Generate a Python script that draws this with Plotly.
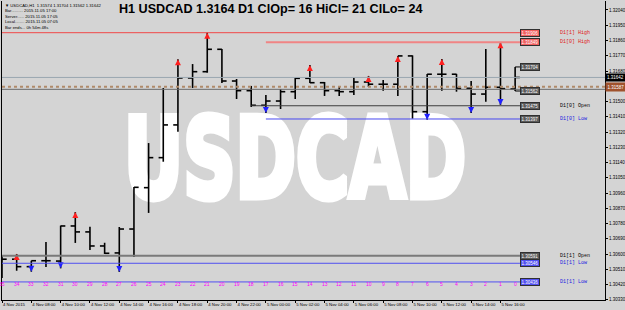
import plotly.graph_objects as go

# ---------------- data ----------------
shifts = list(range(35, -1, -1))
opens = [1.30554, 1.30570, 1.30526, 1.30561, 1.30559, 1.30766, 1.30731, 1.30648, 1.30607, 1.30748,
         1.30992, 1.31169, 1.31362, 1.31639, 1.31676, 1.31808, 1.31621, 1.31564, 1.31478, 1.31503,
         1.31558, 1.31637, 1.31611, 1.31564, 1.31558, 1.31615, 1.31602, 1.31602, 1.31769, 1.31440,
         1.31661, 1.31661, 1.31578, 1.31544, 1.31584, 1.31574]
highs = [1.30595, 1.30601, 1.30561, 1.30672, 1.30768, 1.30848, 1.30762, 1.30667, 1.30760, 1.30996,
         1.31255, 1.31580, 1.31749, 1.31721, 1.31906, 1.31810, 1.31633, 1.31592, 1.31539, 1.31574,
         1.31639, 1.31715, 1.31615, 1.31586, 1.31639, 1.31651, 1.31627, 1.31769, 1.31772, 1.31662,
         1.31751, 1.31663, 1.31621, 1.31810, 1.31849, 1.31704]
lows = [1.30459, 1.30502, 1.30496, 1.30524, 1.30516, 1.30666, 1.30624, 1.30601, 1.30495, 1.30583,
        1.30843, 1.31145, 1.31322, 1.31580, 1.31670, 1.31609, 1.31515, 1.31468, 1.31432, 1.31456,
        1.31515, 1.31609, 1.31533, 1.31533, 1.31539, 1.31586, 1.31564, 1.31533, 1.31399, 1.31393,
        1.31564, 1.31558, 1.31432, 1.31499, 1.31480, 1.31562]
closes = [1.30570, 1.30526, 1.30561, 1.30561, 1.30766, 1.30731, 1.30648, 1.30605, 1.30748, 1.30994,
          1.31169, 1.31362, 1.31639, 1.31676, 1.31808, 1.31621, 1.31564, 1.31478, 1.31503, 1.31558,
          1.31637, 1.31611, 1.31564, 1.31558, 1.31615, 1.31602, 1.31602, 1.31769, 1.31440, 1.31661,
          1.31661, 1.31578, 1.31544, 1.31584, 1.31576, 1.31642]

up_arrow_shifts = [34, 30, 23, 21, 14, 10, 8, 5, 1]
down_arrow_shifts = [33, 31, 27, 17, 6, 3, 1]

time_tick_shifts = [35, 33, 31, 29, 27, 25, 23, 21, 19, 17, 15, 13, 11, 9, 7, 5, 3, 1]
time_tick_labels = ["4 Nov 2015", "4 Nov 08:00", "4 Nov 10:00", "4 Nov 12:00", "4 Nov 14:00",
                    "4 Nov 16:00", "4 Nov 18:00", "4 Nov 20:00", "4 Nov 22:00", "5 Nov 00:00",
                    "5 Nov 02:00", "5 Nov 04:00", "5 Nov 06:00", "5 Nov 08:00", "5 Nov 10:00",
                    "5 Nov 12:00", "5 Nov 14:00", "5 Nov 16:00"]

price_ticks = [1.30330, 1.30420, 1.30510, 1.30600, 1.30690, 1.30780, 1.30870, 1.30960, 1.31050,
               1.31140, 1.31230, 1.31320, 1.31410, 1.31500, 1.31590, 1.31680, 1.31770, 1.31860,
               1.31950, 1.32040]

level_names = ["D1[1] High", "D1[0] High", "D1[0] Open", "D1[0] Low", "D1[1] Open", "D1[1] Low", "D1[1] Low"]
level_values = [1.31906, 1.31849, 1.31475, 1.31397, 1.30591, 1.30546, 1.30436]
level_start_shift = [35, 17, 18, 17, 35, 35, 35]

bid_price = 1.31642
dotted_level = 1.31587
gray_level = 1.31572

watermark = "USDCAD"
title_text = "H1 USDCAD 1.3164 D1 ClOp= 16 HiCl= 21 ClLo= 24"
info_lines = ["\u25bc USDCAD,H1  1.31574 1.31704 1.31562 1.31642",
              "Bar.......... 2015.11.05 17:00",
              "Server...... 2015.11.05 17:05",
              "Local........ 2015.11.05 07:05",
              "Bar ends... 0h 54m 48s"]

# ---------------- style ----------------
BG = "#D4D4D4"
W, H = 625, 310
ML, MR, MT, MB = 2, 20, 1, 10
XR = [0, 41.13]
YR = [1.303294, 1.320929]
TICK = 0.32

level_line_colors = ["#F04848", "#F08484", "#3C3C3C", "#4848F0", "#7A7A7A", "#5050F0", "#5050F0"]
level_line_widths = [1, 2, 1, 1, 2, 1, 1]
level_box_colors = ["#F06060", "#F06060", "#5A5A5A", "#5A5A5A", "#5A5A5A", "#5050F0", "#5050F0"]
level_text_colors = ["#E02020", "#E02020", "#000000", "#2020E0", "#000000", "#2020E0", "#2020E0"]


def kx(s):
    return 35 - s


fig = go.Figure()

# watermark (drawn first so bars are on top)
fig.add_trace(go.Scatter(
    x=[XR[0] + 0.486 * (XR[1] - XR[0])], y=[YR[0] + 0.435 * (YR[1] - YR[0])],
    mode="text", text=["<b>" + watermark + "</b>"], textposition="middle center",
    textfont=dict(family="DejaVu Sans, Liberation Sans, sans-serif", size=110, color="#FFFFFF"),
    hoverinfo="skip", showlegend=False))

# OHLC bars drawn as line segments
bx, by = [], []
for s, o, h, l, c in zip(shifts, opens, highs, lows, closes):
    k = kx(s)
    bx += [k, k, None, k - TICK, k, None, k, k + TICK, None]
    by += [l, h, None, o, o, None, c, c, None]
fig.add_trace(go.Scatter(x=bx, y=by, mode="lines", line=dict(color="#000000", width=1.6),
                         hoverinfo="skip", showlegend=False))

# arrows
idx = {s: i for i, s in enumerate(shifts)}
fig.add_trace(go.Scatter(
    x=[kx(s) for s in up_arrow_shifts], y=[highs[idx[s]] for s in up_arrow_shifts],
    mode="markers", marker=dict(symbol="arrow-up", size=6, color="#FF2020"),
    hoverinfo="skip", showlegend=False))
fig.add_trace(go.Scatter(
    x=[kx(s) for s in down_arrow_shifts], y=[lows[idx[s]] for s in down_arrow_shifts],
    mode="markers", marker=dict(symbol="arrow-down", size=6, color="#2020FF"),
    hoverinfo="skip", showlegend=False))

shapes = []
annotations = []
BOX_X = 35.33
NAME_X = 37.93

# full-width lines
shapes.append(dict(type="line", xref="paper", x0=0, x1=1, yref="y", y0=bid_price, y1=bid_price,
                   line=dict(color="#9AA6B0", width=1)))
shapes.append(dict(type="line", xref="paper", x0=0, x1=1, yref="y", y0=dotted_level, y1=dotted_level,
                   line=dict(color="#B08A6A", width=2, dash="dot")))
shapes.append(dict(type="line", xref="paper", x0=0, x1=1, yref="y", y0=gray_level, y1=gray_level,
                   line=dict(color="#6A6A6A", width=1)))

# D1 levels
for name, v, st, lc, lw, bc, tc in zip(level_names, level_values, level_start_shift,
                                       level_line_colors, level_line_widths,
                                       level_box_colors, level_text_colors):
    shapes.append(dict(type="line", xref="x", x0=kx(st), x1=BOX_X, yref="y", y0=v, y1=v,
                       line=dict(color=lc, width=lw)))
    annotations.append(dict(xref="x", x=BOX_X, yref="y", y=v, xanchor="left", yanchor="middle",
                            text=f"{v:.5f}", showarrow=False, bgcolor=bc, bordercolor="#303030",
                            borderwidth=1, borderpad=0.5,
                            font=dict(size=4.5, color="#FFFFFF", family="Liberation Sans")))
    annotations.append(dict(xref="x", x=NAME_X, yref="y", y=v, xanchor="left", yanchor="middle",
                            text=name, showarrow=False,
                            font=dict(size=5, color=tc, family="Liberation Mono")))

# current bar high / low labels
k0 = kx(shifts[-1])
for v in (highs[-1], lows[-1]):
    shapes.append(dict(type="line", xref="x", x0=k0, x1=BOX_X, yref="y", y0=v, y1=v,
                       line=dict(color="#000000", width=1)))
    annotations.append(dict(xref="x", x=BOX_X, yref="y", y=v, xanchor="left", yanchor="middle",
                            text=f"{v:.5f}", showarrow=False, bgcolor="#5A5A5A", bordercolor="#303030",
                            borderwidth=1, borderpad=0.5,
                            font=dict(size=4.5, color="#FFFFFF", family="Liberation Sans")))

# right axis price boxes
annotations.append(dict(xref="paper", x=1.0, yref="y", y=bid_price, xanchor="left", yanchor="middle",
                        text=f"{bid_price:.5f}", showarrow=False, bgcolor="#000000", borderpad=1,
                        font=dict(size=4.5, color="#FFFFFF", family="Liberation Sans")))
annotations.append(dict(xref="paper", x=1.0, yref="y", y=dotted_level, xanchor="left", yanchor="middle",
                        text=f"{dotted_level:.5f}", showarrow=False, bgcolor="#A0522D", borderpad=1.5,
                        font=dict(size=4.5, color="#FFFFFF", family="Liberation Sans")))

# bar numbers
for s in shifts:
    annotations.append(dict(xref="x", x=kx(s), yref="paper", y=(300 - 284) / 299.0,
                            xanchor="center", yanchor="middle", text=str(s), showarrow=False,
                            font=dict(size=5, color="#FF00FF", family="Liberation Sans")))

# title
annotations.append(dict(xref="paper", x=(117 - ML) / 603.0, yref="paper", y=1 - (8.7 - MT) / 299.0,
                        xanchor="left", yanchor="middle", text="<b>" + title_text + "</b>",
                        showarrow=False, font=dict(size=12.6, color="#000000",
                                                   family="Liberation Sans, Arial, sans-serif")))
# info block
annotations.append(dict(xref="paper", x=0.002, yref="paper", y=1.0, xanchor="left", yanchor="top",
                        align="left", text="<br>".join(info_lines), showarrow=False,
                        font=dict(size=4.2, color="#000000", family="Liberation Sans")))

fig.update_layout(
    width=W, height=H, margin=dict(l=ML, r=MR, t=MT, b=MB, autoexpand=False),
    paper_bgcolor=BG, plot_bgcolor=BG, showlegend=False,
    shapes=shapes, annotations=annotations,
    xaxis=dict(range=XR, showgrid=False, zeroline=False, showline=True, linecolor="#000000",
               linewidth=1, ticks="outside", ticklen=2, tickcolor="#000000", tickangle=0,
               automargin=False,
               tickvals=[kx(s) for s in time_tick_shifts], ticktext=time_tick_labels,
               ticklabelposition="outside right",
               tickfont=dict(size=4.3, color="#000000", family="Liberation Sans"), fixedrange=True),
    yaxis=dict(range=YR, side="right", showgrid=False, zeroline=False, showline=True,
               linecolor="#000000", linewidth=1, mirror=True, ticks="outside", ticklen=2,
               automargin=False,
               tickcolor="#000000", tickvals=price_ticks, ticktext=[f"{p:.5f}" for p in price_ticks],
               tickfont=dict(size=4.5, color="#000000", family="Liberation Sans"), fixedrange=True),
)

# heavy, condensed look of the original watermark
post = """
var gd = document.getElementsByClassName('plotly-graph-div')[0];
gd.querySelectorAll('.textpoint text').forEach(function(t){
  if (t.textContent === '%s') {
    t.setAttribute('textLength', '342');
    t.setAttribute('lengthAdjust', 'spacingAndGlyphs');
    t.style.stroke = '#FFFFFF';
    t.style.strokeWidth = '7px';
    t.style.strokeLinejoin = 'miter';
    t.style.fontWeight = 'bold';
  }
});
""" % watermark

fig.write_html("out.html", post_script=post)
